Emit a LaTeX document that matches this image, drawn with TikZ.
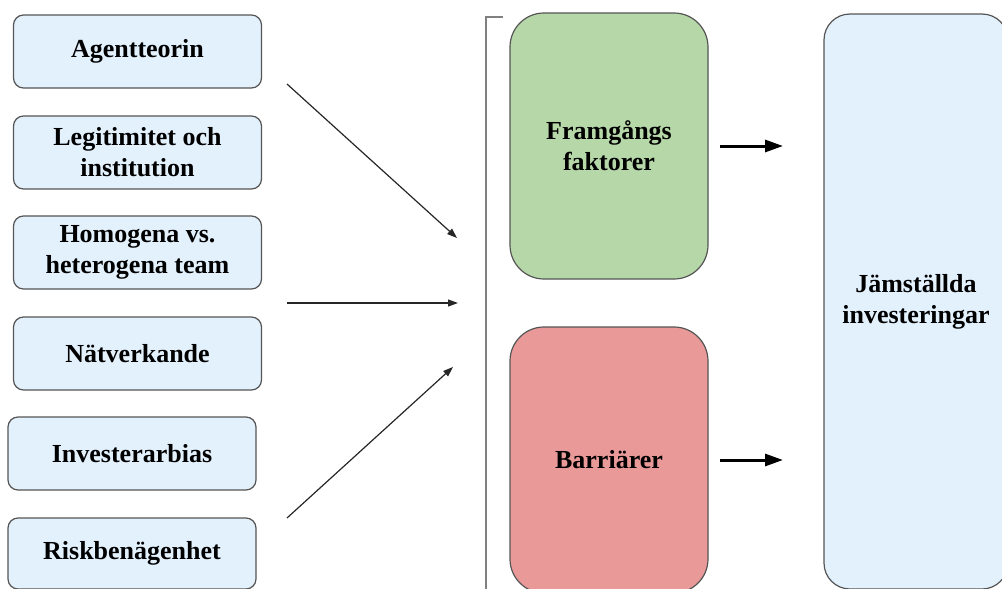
\documentclass[tikz,border=0pt]{standalone}
\usepackage{fontspec}
\setmainfont{Liberation Serif}
\usetikzlibrary{arrows.meta}
\definecolor{boxblue}{HTML}{E3F1FD}
\definecolor{boxgreen}{HTML}{B6D7A8}
\definecolor{boxred}{HTML}{EA9999}
\definecolor{edgegray}{HTML}{555555}
\definecolor{brackgray}{HTML}{808080}
\begin{document}
\begin{tikzpicture}[x=1pt,y=-1pt,
  every node/.style={font=\fontsize{26}{31}\selectfont\bfseries, align=center, inner sep=0pt},
  leftbox/.style={draw=edgegray, line width=1.2pt, fill=boxblue, rounded corners=10pt, minimum width=248pt, minimum height=73pt},
  bigbox/.style={draw=edgegray, line width=1.2pt, rounded corners=34pt, minimum width=198pt},
  thinarrow/.style={-{Triangle[length=10pt,width=7pt]}, line width=1.2pt, draw=black!85},
  thickarrow/.style={-{Triangle[length=18pt,width=12pt]}, line width=3pt, draw=black}
]
\useasboundingbox (0,0) rectangle (1002,589);
% left boxes
\node[leftbox] (b1) at (137.5,51.5) {Agentteorin};
\node[leftbox] (b2) at (137.5,152.5) {Legitimitet och\\institution};
\node[leftbox] (b3) at (137.5,252.5) {Homogena vs.\\heterogena team};
\node[leftbox] (b4) at (137.5,353.5) {Nätverkande};
\node[leftbox] (b5) at (132,453.5) {Investerarbias};
\node[leftbox, minimum height=71pt] (b6) at (132,553.5) {Riskbenägenhet};
% bracket
\draw[brackgray, line width=2pt] (503,17) -- (486,17) -- (486,600);
% middle boxes
\node[bigbox, fill=boxgreen, minimum height=266pt] (fr) at (609,146) {Framgångs\\faktorer};
\node[bigbox, fill=boxred, minimum height=266pt] (ba) at (609,460) {Barriärer};
% right box
\node[draw=edgegray, line width=1.2pt, fill=boxblue, rounded corners=26pt, minimum width=184pt, minimum height=575pt] (ji) at (916,301.5) {Jämställda\\investeringar};
% arrow coordinates
\coordinate (s1) at (287,84);
\coordinate (e1) at (457,238);
\coordinate (s2) at (287,303);
\coordinate (e2) at (458,303);
\coordinate (s3) at (287,518);
\coordinate (e3) at (453,367);
\draw[thinarrow] (s1) -- (e1);
\draw[thinarrow] (s2) -- (e2);
\draw[thinarrow] (s3) -- (e3);
% thick arrows
\coordinate (t1s) at (720,146);
\coordinate (t1e) at (783,146);
\coordinate (t2s) at (720,460);
\coordinate (t2e) at (783,460);
\draw[thickarrow] (t1s) -- (t1e);
\draw[thickarrow] (t2s) -- (t2e);
\end{tikzpicture}
\end{document}
